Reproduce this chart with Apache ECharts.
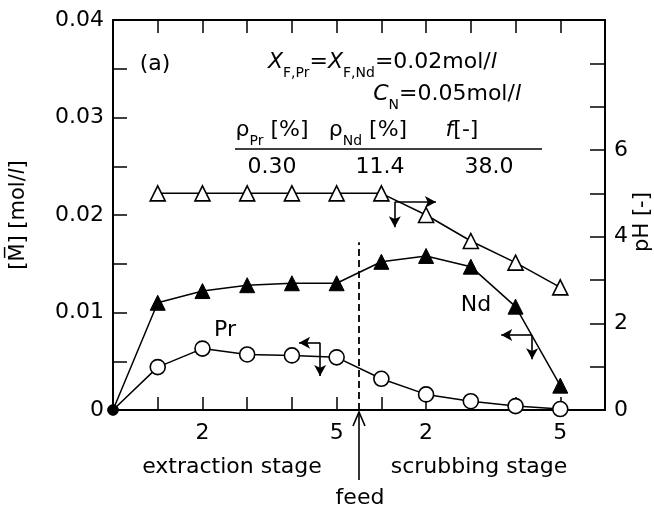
<!DOCTYPE html>
<html>
<head>
<meta charset="utf-8">
<script src="https://cdn.jsdelivr.net/npm/echarts@6/dist/echarts.min.js"></script>
<style>
  html, body { margin: 0; padding: 0; background: #fff; }
  #chart { width: 654px; height: 514px; }
</style>
</head>
<body>
<div id="chart"></div>
<script>
// stage index: 1-5 extraction, 6-10 scrubbing (0 = inlet)
const stages = [0, 1, 2, 3, 4, 5, 6, 7, 8, 9, 10];
const xTickLabels = ['', '', '2', '', '', '5', '', '2', '', '', '5', ''];
const leftTickLabels = ['0', '', '0.01', '', '0.02', '', '0.03', '', '0.04'];
const rightTickLabels = ['0', '', '2', '', '4', '', '6', '', '', ''];

// organic phase concentration [mol/l]
const prConc = [0, 0.0044, 0.0063, 0.0057, 0.0056, 0.0054, 0.0032, 0.0016, 0.0009, 0.0004, 0.0001];
const ndConc = [0, 0.0110, 0.0122, 0.0128, 0.0130, 0.0130, 0.0152, 0.0158, 0.0147, 0.0106, 0.0025];

// pH (right axis)
const phStages = [1, 2, 3, 4, 5, 6, 7, 8, 9, 10];
const phValues = [5.0, 5.0, 5.0, 5.0, 5.0, 5.0, 4.5, 3.9, 3.4, 2.83];

const FONT = 'DejaVu Sans';
const feedStage = 5.5;

const chart = echarts.init(document.getElementById('chart'), null, { renderer: 'canvas' });

const pair = (xs, ys) => xs.map((x, i) => [x, ys[i]]);
const withOrigin = (arr) => arr.map((p, i) => i === 0
  ? { value: p, symbol: 'circle', symbolSize: 10, itemStyle: { color: '#000', borderColor: '#000' } }
  : p);

const axisLine = { show: true, onZero: false, lineStyle: { color: '#000', width: 2 } };
const lblStyle = { color: '#000', fontFamily: FONT, fontSize: 22 };
const arrowLine = { color: '#000', width: 1.6, type: 'solid' };
const subStyle = { fontFamily: FONT, fontSize: 14, fill: '#000', verticalAlign: 'bottom', lineHeight: 14, padding: [0, 0, -5, 0] };
const itaStyle = { fontFamily: FONT, fontSize: 22, fontStyle: 'italic', fill: '#000' };

const plainText = (x, y, text, align) => ({
  type: 'text', x, y,
  style: { text, font: `22px "${FONT}"`, fill: '#000', align: align || 'center', verticalAlign: 'middle' }
});
const richText = (x, y, text, align) => ({
  type: 'text', x, y,
  style: {
    text, fontFamily: FONT, fontSize: 22, lineHeight: 26, fill: '#000',
    align: align || 'center', verticalAlign: 'middle',
    rich: { i: itaStyle, s: subStyle }
  }
});

chart.setOption({
  animation: false,
  backgroundColor: '#fff',
  grid: { left: 113, right: 49, top: 20, bottom: 104, containLabel: false, outerBoundsMode: 'none' },
  xAxis: [
    {
      type: 'value', min: 0, max: 11, interval: 1, position: 'bottom',
      axisLine, splitLine: { show: false },
      axisTick: { inside: true, length: 13, lineStyle: { color: '#000', width: 1.5 } },
      axisLabel: { ...lblStyle, margin: 12, formatter: v => xTickLabels[Math.round(v)] || '' }
    },
    {
      type: 'value', min: 0, max: 11, interval: 1, position: 'top',
      axisLine, splitLine: { show: false },
      axisTick: { inside: true, length: 13, lineStyle: { color: '#000', width: 1.5 } },
      axisLabel: { show: false }
    }
  ],
  yAxis: [
    {
      type: 'value', min: 0, max: 0.04, interval: 0.005, position: 'left',
      axisLine, splitLine: { show: false },
      axisTick: { inside: true, length: 14, lineStyle: { color: '#000', width: 1.5 } },
      axisLabel: { ...lblStyle, margin: 9, formatter: v => leftTickLabels[Math.round(v / 0.005)] || '' },
      name: '[{o|M\u0305}] [mol/{i|l}]',
      nameLocation: 'middle', nameGap: 84, nameRotate: 90,
      nameTextStyle: {
        color: '#000', fontFamily: FONT, fontSize: 21,
        rich: { o: { fontFamily: FONT, fontSize: 21, color: '#000' }, i: { fontFamily: FONT, fontSize: 21, fontStyle: 'italic', color: '#000' } }
      }
    },
    {
      type: 'value', min: 0, max: 9, interval: 1, position: 'right',
      axisLine, splitLine: { show: false },
      axisTick: { inside: true, length: 15, lineStyle: { color: '#000', width: 1.5 } },
      axisLabel: { ...lblStyle, margin: 9, formatter: v => rightTickLabels[Math.round(v)] || '' }
    }
  ],
  series: [
    {
      name: 'Pr', type: 'line', xAxisIndex: 0, yAxisIndex: 0,
      data: withOrigin(pair(stages, prConc)),
      symbol: 'circle', symbolSize: 15, showAllSymbol: true,
      lineStyle: { color: '#000', width: 1.5 },
      itemStyle: { color: '#fff', borderColor: '#000', borderWidth: 1.6 },
      z: 3,
      markLine: {
        silent: true, symbol: ['none', 'arrow'], symbolSize: [9, 11], precision: 5,
        label: { show: false }, lineStyle: arrowLine, animation: false,
        data: [
          [{ coord: [feedStage, 0], symbol: 'none' }, { coord: [feedStage, 0.0172], symbol: 'none', lineStyle: { type: [7, 4], width: 1.8, color: '#000' } }],
          [{ coord: [4.63, 0.0069] }, { coord: [4.16, 0.0069] }],
          [{ coord: [4.63, 0.0069] }, { coord: [4.63, 0.0035] }],
          [{ coord: [9.37, 0.0077] }, { coord: [8.68, 0.0077] }],
          [{ coord: [9.37, 0.0077] }, { coord: [9.37, 0.0052] }]
        ]
      }
    },
    {
      name: 'Nd', type: 'line', xAxisIndex: 0, yAxisIndex: 0,
      data: withOrigin(pair(stages, ndConc)),
      symbol: 'triangle', symbolSize: 15, showAllSymbol: true,
      lineStyle: { color: '#000', width: 1.5 },
      itemStyle: { color: '#000', borderColor: '#000', borderWidth: 1 },
      z: 3
    },
    {
      name: 'pH', type: 'line', xAxisIndex: 0, yAxisIndex: 1,
      data: pair(phStages, phValues),
      symbol: 'triangle', symbolSize: 15, showAllSymbol: true,
      lineStyle: { color: '#000', width: 1.5 },
      itemStyle: { color: '#fff', borderColor: '#000', borderWidth: 1.6 },
      z: 3,
      markLine: {
        silent: true, symbol: ['none', 'arrow'], symbolSize: [9, 11], precision: 5,
        label: { show: false }, lineStyle: arrowLine, animation: false,
        data: [
          [{ coord: [6.3, 4.8] }, { coord: [7.22, 4.8] }],
          [{ coord: [6.3, 4.8] }, { coord: [6.3, 4.22] }]
        ]
      }
    }
  ],
  graphic: [
    plainText(155, 64, '(a)'),
    richText(268, 62, '{i|X}{s|F,Pr}={i|X}{s|F,Nd}=0.02mol/{i|l}', 'left'),
    richText(521, 94, '{i|C}{s|N}=0.05mol/{i|l}', 'right'),
    richText(272, 130, 'ρ{s|Pr} [%]'),
    richText(368, 130, 'ρ{s|Nd} [%]'),
    richText(462, 130, '{i|f}[-]'),
    { type: 'line', shape: { x1: 235, y1: 149, x2: 542, y2: 149 }, style: { stroke: '#000', lineWidth: 1.6 } },
    plainText(272, 167, '0.30'),
    plainText(380, 167, '11.4'),
    plainText(489, 167, '38.0'),
    plainText(225, 330, 'Pr'),
    plainText(476, 305, 'Nd'),
    plainText(232, 467, 'extraction stage'),
    plainText(479, 467, 'scrubbing stage'),
    plainText(360, 498, 'feed'),
    // right axis title, reading bottom to top
    {
      type: 'text', x: 643, y: 222, rotation: Math.PI / 2,
      style: { text: 'pH [-]', font: `21px "${FONT}"`, fill: '#000', align: 'center', verticalAlign: 'middle' }
    }
  ]
});

// feed arrow below the stage axis, placed from the feed stage position
const feedTop = chart.convertToPixel({ xAxisIndex: 0, yAxisIndex: 0 }, [feedStage, 0]);
const fx = feedTop[0], fy = feedTop[1] + 2;
chart.setOption({
  graphic: [
    { id: 'feedShaft', type: 'line', shape: { x1: fx, y1: fy + 68, x2: fx, y2: fy }, style: { stroke: '#000', lineWidth: 1.6 } },
    { id: 'feedHead', type: 'polyline', shape: { points: [[fx - 6, fy + 14], [fx, fy], [fx + 6, fy + 14]] }, style: { stroke: '#000', lineWidth: 1.6, fill: null } }
  ]
});
</script>
</body>
</html>
